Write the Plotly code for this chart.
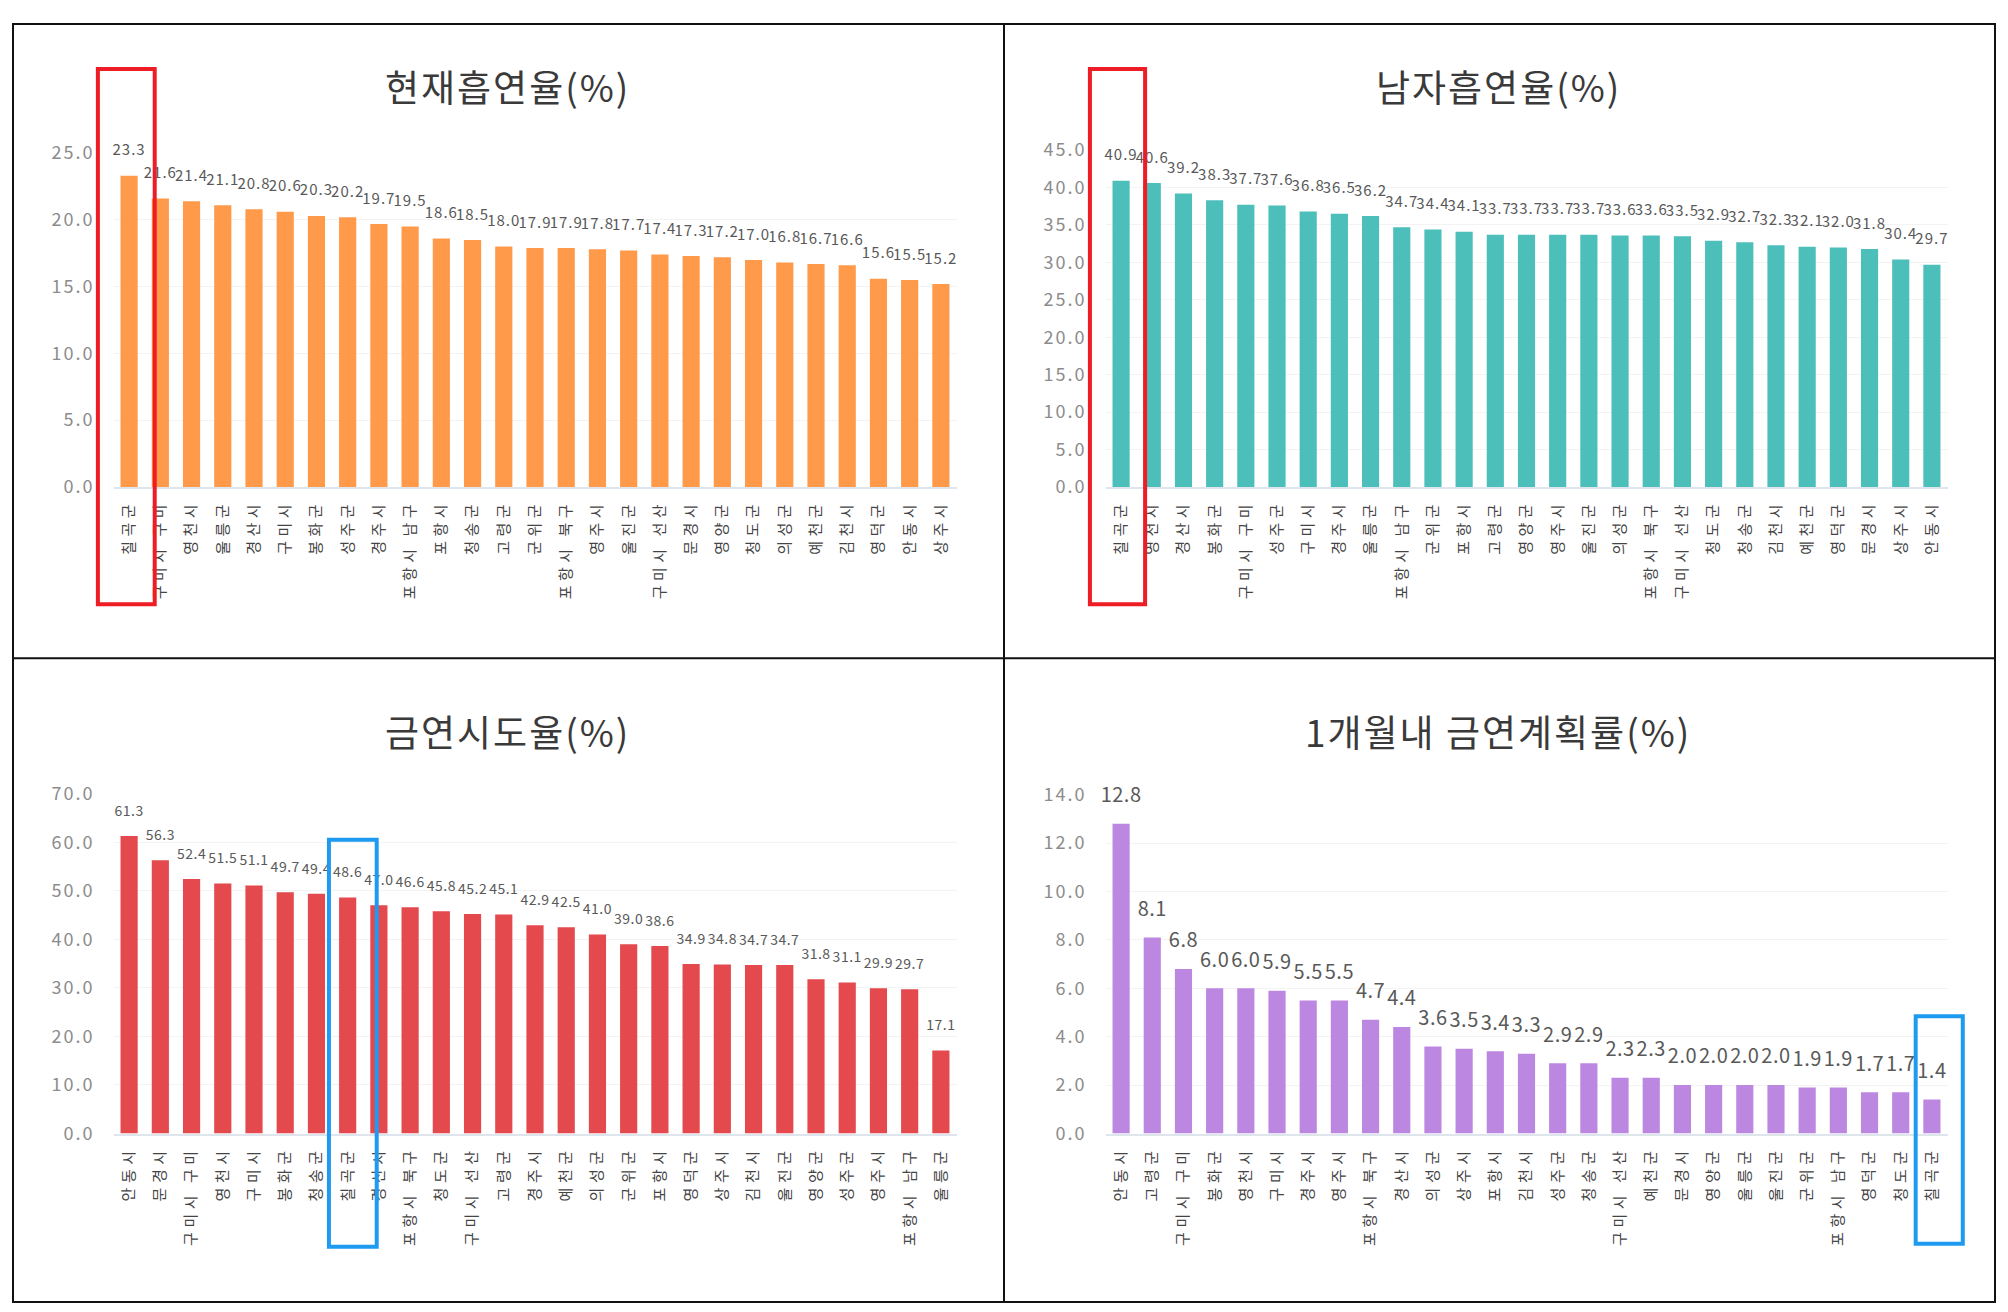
import plotly.graph_objects as go

W, H = 2008, 1312          # browser window
OFF = 8                    # default page (body) margin
FW, FH = 1990, 1306        # figure size
FONT = "Noto Sans CJK KR"

# ---------------- data ----------------
cur_regions = ["칠곡군", "구미시 구미", "영천시", "울릉군", "경산시", "구미시", "봉화군", "성주군", "경주시",
               "포항시 남구", "포항시", "청송군", "고령군", "군위군", "포항시 북구", "영주시", "울진군",
               "구미시 선산", "문경시", "영양군", "청도군", "의성군", "예천군", "김천시", "영덕군", "안동시", "상주시"]
cur_values = [23.3, 21.6, 21.4, 21.1, 20.8, 20.6, 20.3, 20.2, 19.7, 19.5, 18.6, 18.5, 18.0, 17.9,
              17.9, 17.8, 17.7, 17.4, 17.3, 17.2, 17.0, 16.8, 16.7, 16.6, 15.6, 15.5, 15.2]

male_regions = ["칠곡군", "영천시", "경산시", "봉화군", "구미시 구미", "성주군", "구미시", "경주시", "울릉군",
                "포항시 남구", "군위군", "포항시", "고령군", "영양군", "영주시", "울진군", "의성군",
                "포항시 북구", "구미시 선산", "청도군", "청송군", "김천시", "예천군", "영덕군", "문경시", "상주시", "안동시"]
male_values = [40.9, 40.6, 39.2, 38.3, 37.7, 37.6, 36.8, 36.5, 36.2, 34.7, 34.4, 34.1, 33.7, 33.7,
               33.7, 33.7, 33.6, 33.6, 33.5, 32.9, 32.7, 32.3, 32.1, 32.0, 31.8, 30.4, 29.7]

quit_regions = ["안동시", "문경시", "구미시 구미", "영천시", "구미시", "봉화군", "청송군", "칠곡군", "경산시",
                "포항시 북구", "청도군", "구미시 선산", "고령군", "경주시", "예천군", "의성군", "군위군",
                "포항시", "영덕군", "상주시", "김천시", "울진군", "영양군", "성주군", "영주시", "포항시 남구", "울릉군"]
quit_values = [61.3, 56.3, 52.4, 51.5, 51.1, 49.7, 49.4, 48.6, 47.0, 46.6, 45.8, 45.2, 45.1, 42.9,
               42.5, 41.0, 39.0, 38.6, 34.9, 34.8, 34.7, 34.7, 31.8, 31.1, 29.9, 29.7, 17.1]

plan_regions = ["안동시", "고령군", "구미시 구미", "봉화군", "영천시", "구미시", "경주시", "영주시", "포항시 북구",
                "경산시", "의성군", "상주시", "포항시", "김천시", "성주군", "청송군", "구미시 선산", "예천군",
                "문경시", "영양군", "울릉군", "울진군", "군위군", "포항시 남구", "영덕군", "청도군", "칠곡군"]
plan_values = [12.8, 8.1, 6.8, 6.0, 6.0, 5.9, 5.5, 5.5, 4.7, 4.4, 3.6, 3.5, 3.4, 3.3, 2.9, 2.9,
               2.3, 2.3, 2.0, 2.0, 2.0, 2.0, 1.9, 1.9, 1.7, 1.7, 1.4]

titles = ["현재흡연율(%)", "남자흡연율(%)", "금연시도율(%)", "1개월내 금연계획률(%)"]
highlight = "칠곡군"


# ---------------- layout helpers (window pixels -> paper fractions) ----------------
def px_x(p):
    return (p - OFF) / FW


def px_y(p):
    fy = (p - 24.2) / 0.9777
    fy = min(max(fy, 1.0), FH - 1.0)
    return 1 - fy / FH


def spaced(s, ls):
    return f'<span style="letter-spacing:{ls}px">{s}</span>'


panels = [
    dict(cats=cur_regions, vals=cur_values, color="#FF9A4B", xd=(113.5, 956.5), yd=(487, 154),
         yr=[0, 25], dt=5, tsize=15, tls=1, title_xy=(507, 87), box_color="#EE1C25",
         box_off=(-1.0, 0.82), box_y=(70, 604)),
    dict(cats=male_regions, vals=male_values, color="#4CBFBA", xd=(1105.5, 1947.5), yd=(487, 151),
         yr=[0, 45], dt=5, tsize=15, tls=1, title_xy=(1498, 87), box_color="#EE1C25",
         box_off=(-1.0, 0.77), box_y=(70, 604)),
    dict(cats=quit_regions, vals=quit_values, color="#E4494E", xd=(113.5, 956.5), yd=(1132, 793),
         yr=[0, 70], dt=10, tsize=14, tls=0.5, title_xy=(507, 730), box_color="#1E9BF0",
         box_off=(-0.6, 0.93), box_y=(839, 1245)),
    dict(cats=plan_regions, vals=plan_values, color="#BC87E0", xd=(1105.5, 1947.5), yd=(1132, 794),
         yr=[0, 14], dt=2, tsize=20, tls=0.5, title_xy=(1498, 730), box_color="#1E9BF0",
         box_off=(-0.52, 0.99), box_y=(1015, 1242)),
]

fig = go.Figure()
layout = dict(width=FW, height=FH, autosize=False, margin=dict(l=0, r=0, t=0, b=0, pad=0),
              paper_bgcolor="white", plot_bgcolor="white", showlegend=False,
              font=dict(family=FONT, color="#444444"), bargap=0.45)
annotations = []
shapes = []

for i, p in enumerate(panels):
    n = i + 1
    xa = "x" if n == 1 else f"x{n}"
    ya = "y" if n == 1 else f"y{n}"
    fig.add_trace(go.Bar(
        x=p["cats"], y=p["vals"], xaxis=xa, yaxis=ya,
        marker=dict(color=p["color"], line=dict(width=0)), hoverinfo="skip",
    ))
    # value labels, floating a little above each bar
    fig.add_trace(go.Scatter(
        x=p["cats"], y=p["vals"], xaxis=xa, yaxis=ya, mode="markers+text",
        marker=dict(size=25, opacity=0, color=p["color"]),
        text=[spaced(f"{v:.1f}", p["tls"]) for v in p["vals"]], textposition="top center",
        textfont=dict(family=FONT, size=p["tsize"], color="#595959"),
        cliponaxis=False, hoverinfo="skip",
    ))
    xkey = "xaxis" if n == 1 else f"xaxis{n}"
    ykey = "yaxis" if n == 1 else f"yaxis{n}"
    d0, d1 = px_x(p["xd"][0]), px_x(p["xd"][1])
    ncat = len(p["cats"])
    layout[xkey] = dict(
        domain=[d0, d1], anchor=ya, type="category",
        range=[-0.5, ncat - 0.5], tickangle=-90,
        tickvals=p["cats"], ticktext=[spaced(c, 4.5) for c in p["cats"]],
        tickfont=dict(family=FONT, size=15, color="#444444"),
        showline=True, linecolor="#dfe5ec", linewidth=2, showgrid=False, ticks="",
        ticklabelstandoff=5, fixedrange=True,
    )
    ticks = [k * p["dt"] for k in range(int(p["yr"][1] / p["dt"]) + 1)]
    layout[ykey] = dict(
        domain=[px_y(p["yd"][0]), px_y(p["yd"][1])], anchor=xa, range=p["yr"],
        tickvals=ticks, ticktext=[spaced(f"{t:.1f}", 2) for t in ticks],
        tickfont=dict(family=FONT, size=18, color="#8c8c8c"),
        showgrid=True, gridcolor="#f3f3f3", gridwidth=1, zeroline=False, showline=False,
        ticks="", ticklabelstandoff=18, fixedrange=True,
    )
    annotations.append(dict(
        text=spaced(titles[i], 2), x=px_x(p["title_xy"][0]), y=px_y(p["title_xy"][1]),
        xref="paper", yref="paper", showarrow=False, xanchor="center", yanchor="middle",
        font=dict(family=FONT, size=37, color="#3a3a3a"),
    ))
    # highlight box around the highlighted region's bar (category slot -> paper x)
    idx = p["cats"].index(highlight)
    slot = (d1 - d0) / ncat
    cx = d0 + (idx + 0.5) * slot
    shapes.append(dict(
        type="rect", xref="paper", yref="paper",
        x0=cx + p["box_off"][0] * slot, x1=cx + p["box_off"][1] * slot,
        y0=px_y(p["box_y"][1]), y1=px_y(p["box_y"][0]),
        line=dict(color=p["box_color"], width=4), fillcolor="rgba(0,0,0,0)", layer="above",
    ))

# table frame
frame = dict(color="#111111", width=2)
shapes.append(dict(type="rect", xref="paper", yref="paper", x0=px_x(13), x1=px_x(1995),
                   y0=px_y(1301), y1=px_y(15), line=frame))
shapes.append(dict(type="line", xref="paper", yref="paper", x0=px_x(1004), x1=px_x(1004),
                   y0=px_y(1301), y1=px_y(15), line=frame))
shapes.append(dict(type="line", xref="paper", yref="paper", x0=px_x(13), x1=px_x(1995),
                   y0=px_y(658), y1=px_y(658), line=frame))

layout["annotations"] = annotations
layout["shapes"] = shapes
fig.update_layout(**layout)
fig.write_html("out.html")
